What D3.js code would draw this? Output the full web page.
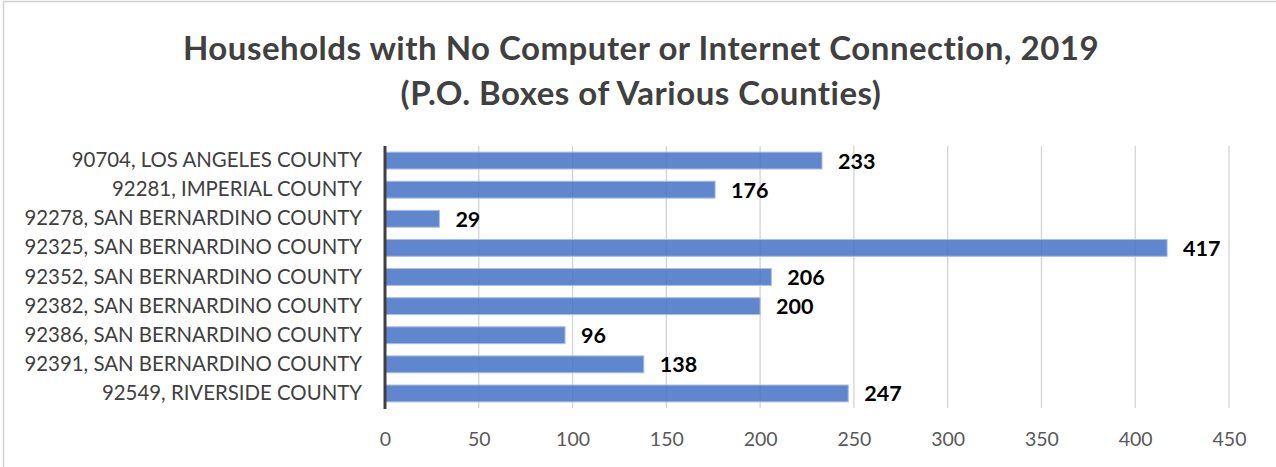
<!DOCTYPE html>
<html>
<head>
<meta charset="utf-8">
<script src="https://cdn.jsdelivr.net/npm/d3@7"></script>
<style>
  body { margin: 0; background: #fff; }
  #chart-container { width: 1276px; height: 467px; }
</style>
</head>
<body>
<div id="chart-container"></div>
<script>
// --- Data ---
const categories = [
    "90704, LOS ANGELES COUNTY",
    "92281, IMPERIAL COUNTY",
    "92278, SAN BERNARDINO COUNTY",
    "92325, SAN BERNARDINO COUNTY",
    "92352, SAN BERNARDINO COUNTY",
    "92382, SAN BERNARDINO COUNTY",
    "92386, SAN BERNARDINO COUNTY",
    "92391, SAN BERNARDINO COUNTY",
    "92549, RIVERSIDE COUNTY"
];
const values = [233, 176, 29, 417, 206, 200, 96, 138, 247];
const xTicks = [0, 50, 100, 150, 200, 250, 300, 350, 400, 450];
const titleLines = [
    "Households with No Computer or Internet Connection, 2019",
    "(P.O. Boxes of Various Counties)"
];

// --- Configuration ---
const width = 1276;
const height = 467;
const margin = { top: 146, right: 47, bottom: 59, left: 385 };
const font = "Lato, sans-serif";

const svg = d3.select("#chart-container")
    .append("svg")
    .attr("width", width)
    .attr("height", height);

// chart frame (only left/top visible)
svg.append("rect")
    .attr("x", 3.5).attr("y", 1.5)
    .attr("width", width + 20).attr("height", height + 20)
    .attr("fill", "none")
    .attr("stroke", "#d0d0d0").attr("stroke-width", 1.5);

// --- Scales ---
const xScale = d3.scaleLinear()
    .domain([0, 450])
    .range([margin.left, width - margin.right]);

const yScale = d3.scaleBand()
    .domain(categories)
    .range([margin.top, height - margin.bottom])
    .paddingInner(0.42)
    .paddingOuter(0.21);

// --- Title ---
svg.append("g").selectAll("text")
    .data(titleLines)
    .enter()
    .append("text")
    .attr("x", 641)
    .attr("y", (d, i) => 60 + i * 45)
    .attr("text-anchor", "middle")
    .attr("fill", "#404040")
    .attr("font-family", font)
    .attr("font-weight", "bold")
    .attr("font-size", "33px")
    .attr("letter-spacing", "0.5px")
    .text(d => d);

// --- Gridlines ---
svg.append("g")
    .selectAll("line")
    .data(xTicks.slice(1))
    .enter()
    .append("line")
    .attr("x1", d => xScale(d)).attr("x2", d => xScale(d))
    .attr("y1", margin.top).attr("y2", height - margin.bottom)
    .attr("stroke", "#d4d4d4").attr("stroke-width", 1.3);

// --- Bars ---
svg.append("g")
    .selectAll("rect")
    .data(values)
    .enter()
    .append("rect")
    .attr("x", xScale(0))
    .attr("y", (d, i) => yScale(categories[i]))
    .attr("width", d => xScale(d) - xScale(0))
    .attr("height", yScale.bandwidth())
    .attr("fill", "#4472c4")
    .attr("fill-opacity", 0.85)
    .attr("stroke", "#a9bfe6")
    .attr("stroke-width", 1);

// --- Value labels ---
svg.append("g")
    .selectAll("text")
    .data(values)
    .enter()
    .append("text")
    .attr("x", d => xScale(d) + 16)
    .attr("y", (d, i) => yScale(categories[i]) + yScale.bandwidth() / 2)
    .attr("dy", "0.37em")
    .attr("fill", "#000")
    .attr("font-family", font)
    .attr("font-weight", "bold")
    .attr("font-size", "21.5px")
    .text(d => d);

// --- Y axis ---
const yAxis = d3.axisLeft(yScale).tickSize(0).tickPadding(23);
const yAxisG = svg.append("g")
    .attr("transform", `translate(${margin.left}, 0)`)
    .call(yAxis);
yAxisG.select(".domain").remove();
yAxisG.selectAll("text")
    .attr("fill", "#404040")
    .attr("font-family", font)
    .attr("font-size", "20.4px");

svg.append("line")
    .attr("x1", xScale(0)).attr("x2", xScale(0))
    .attr("y1", margin.top).attr("y2", height - margin.bottom + 1)
    .attr("stroke", "#404040").attr("stroke-width", 3);

// --- X axis ---
const xAxis = d3.axisBottom(xScale).tickValues(xTicks).tickSize(0).tickPadding(24);
const xAxisG = svg.append("g")
    .attr("transform", `translate(0, ${height - margin.bottom})`)
    .call(xAxis);
xAxisG.select(".domain").remove();
xAxisG.selectAll("text")
    .attr("fill", "#595959")
    .attr("font-family", font)
    .attr("font-size", "19.5px");
</script>
</body>
</html>
